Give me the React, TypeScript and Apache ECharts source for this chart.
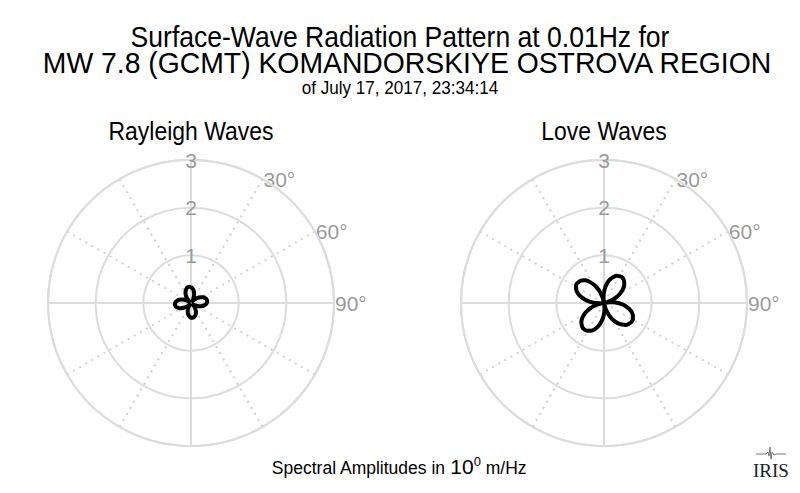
import React, { useEffect, useRef } from "react";
import * as echarts from "echarts";

// azimuth in degrees, clockwise from north
const azimuths = [
  0, 5, 10, 15, 20, 25, 30, 35, 40, 45, 50, 55, 60, 65, 70, 75, 80, 85, 90, 95,
  100, 105, 110, 115, 120, 125, 130, 135, 140, 145, 150, 155, 160, 165, 170,
  175, 180, 185, 190, 195, 200, 205, 210, 215, 220, 225, 230, 235, 240, 245,
  250, 255, 260, 265, 270, 275, 280, 285, 290, 295, 300, 305, 310, 315, 320,
  325, 330, 335, 340, 345, 350, 355, 360,
];

const rayleigh = [
  0.33, 0.31, 0.28, 0.24, 0.19, 0.14, 0.08, 0.02, 0.04, 0.1, 0.15, 0.2, 0.24,
  0.28, 0.31, 0.33, 0.34, 0.34, 0.33, 0.31, 0.28, 0.24, 0.2, 0.15, 0.1, 0.04,
  0.02, 0.07, 0.12, 0.16, 0.21, 0.24, 0.27, 0.29, 0.31, 0.31, 0.31, 0.29, 0.27,
  0.24, 0.2, 0.16, 0.11, 0.06, 0.01, 0.05, 0.11, 0.16, 0.21, 0.26, 0.29, 0.32,
  0.33, 0.34, 0.33, 0.32, 0.29, 0.26, 0.21, 0.16, 0.11, 0.05, 0.01, 0.07, 0.13,
  0.18, 0.23, 0.27, 0.3, 0.33, 0.34, 0.34, 0.33,
];

const love = [
  0.23, 0.34, 0.44, 0.52, 0.58, 0.63, 0.65, 0.66, 0.64, 0.6, 0.55, 0.47, 0.38,
  0.28, 0.17, 0.05, 0.07, 0.19, 0.3, 0.4, 0.49, 0.57, 0.63, 0.67, 0.7, 0.7,
  0.68, 0.65, 0.59, 0.52, 0.44, 0.34, 0.23, 0.12, 0, 0.12, 0.23, 0.33, 0.43,
  0.52, 0.59, 0.64, 0.67, 0.69, 0.69, 0.66, 0.62, 0.56, 0.48, 0.39, 0.29, 0.18,
  0.07, 0.05, 0.18, 0.29, 0.4, 0.5, 0.58, 0.64, 0.68, 0.7, 0.69, 0.67, 0.62,
  0.55, 0.46, 0.36, 0.25, 0.13, 0, 0.12, 0.23,
];

const panelTitles = ["Rayleigh Waves", "Love Waves"];
const angleLabels = [30, 60, 90];
const radiusMax = 3;

const centers = [
  [191, 303],
  [604, 303],
];
const R = 143;
const GRID = "#dcdcdc";
const LABEL = "#9a9a9a";
const SANS = "'Liberation Sans', Arial, sans-serif";

// Liberation Sans squeezed horizontally to look like Arial Narrow
const narrowText = (text: string, x: number, y: number, size: number, sx = 0.9) => ({
  type: "text",
  x,
  y,
  scaleX: sx,
  style: {
    text,
    align: "center",
    verticalAlign: "middle",
    fontSize: size,
    lineHeight: Math.round(size * 0.78),
    fontFamily: SANS,
    fill: "#000",
  },
});

const App = () => {
  const chartRef = useRef<HTMLDivElement>(null);

  useEffect(() => {
    document.body.style.margin = "0";
    if (!chartRef.current) return;
    const chart = echarts.init(chartRef.current, null, { renderer: "svg" });

    const polar: any[] = [];
    const angleAxis: any[] = [];
    const radiusAxis: any[] = [];
    centers.forEach((c) => {
      // dotted spokes every 30 deg + inner circles
      polar.push({ center: c, radius: R });
      angleAxis.push({
        polarIndex: polar.length - 1,
        type: "value",
        min: 0,
        max: 360,
        interval: 30,
        startAngle: 90,
        clockwise: true,
        axisLine: { show: false },
        axisTick: { show: false },
        axisLabel: { show: false },
        splitLine: { lineStyle: { type: [2, 5], color: "#cfcfcf", width: 2 } },
      });
      radiusAxis.push({
        polarIndex: polar.length - 1,
        min: 0,
        max: radiusMax,
        interval: 1,
        axisLine: { show: false },
        axisTick: { show: false },
        axisLabel: { show: false },
        splitLine: { show: true, lineStyle: { color: GRID, width: 2 } },
      });
      // solid cross + outer ring + radius labels
      polar.push({ center: c, radius: R });
      angleAxis.push({
        polarIndex: polar.length - 1,
        type: "value",
        min: 0,
        max: 360,
        interval: 90,
        startAngle: 90,
        clockwise: true,
        axisLine: { show: true, lineStyle: { color: GRID, width: 2 } },
        axisTick: { show: false },
        axisLabel: { show: false },
        splitLine: { lineStyle: { color: GRID, width: 2 } },
      });
      radiusAxis.push({
        polarIndex: polar.length - 1,
        min: 0,
        max: radiusMax,
        interval: 1,
        axisLine: { show: false },
        axisTick: { show: false },
        splitLine: { show: false },
        axisLabel: {
          show: true,
          margin: 0,
          align: "center",
          verticalAlign: "middle",
          color: LABEL,
          fontSize: 21,
          fontFamily: SANS,
          formatter: (v: number) => (v === 0 ? "" : String(v)),
        },
      });
    });

    const graphic: any[] = [
      narrowText("Surface-Wave Radiation Pattern at 0.01Hz for", 400, 36, 30, 0.885),
      narrowText("MW 7.8 (GCMT) KOMANDORSKIYE OSTROVA REGION", 407, 63, 30, 0.945),
      narrowText("of July 17, 2017, 23:34:14", 400, 88, 19),
      {
        type: "text",
        x: 399,
        y: 466,
        style: {
          text: "{a|Spectral Amplitudes in }{b|10}{c|0}{a| m/Hz}",
          align: "center",
          verticalAlign: "middle",
          fill: "#000",
          rich: {
            a: { fontSize: 17.5, fontFamily: SANS, fill: "#000", verticalAlign: "bottom", lineHeight: 22 },
            b: { fontSize: 21, fontFamily: SANS, fill: "#000", verticalAlign: "bottom", lineHeight: 22 },
            c: { fontSize: 13, fontFamily: SANS, fill: "#000", verticalAlign: "top", lineHeight: 22 },
          },
        },
      },
      // IRIS logo
      {
        type: "polyline",
        shape: {
          points: [
            [756, 454], [766, 454], [768, 452], [769, 456], [770, 447], [771, 459],
            [772, 452], [774, 455], [776, 454], [786, 454],
          ],
        },
        style: { stroke: "#555", lineWidth: 0.8, fill: null },
      },
      {
        type: "text",
        x: 771,
        y: 470,
        style: {
          text: "IRIS",
          align: "center",
          verticalAlign: "middle",
          fontSize: 19,
          fontFamily: "'Liberation Serif', serif",
          fill: "#222",
        },
      },
    ];

    centers.forEach((c, i) => {
      graphic.push(narrowText(panelTitles[i], c[0], 131, 25.5));
      angleLabels.forEach((a) => {
        const rad = (a * Math.PI) / 180;
        graphic.push({
          type: "text",
          x: c[0] + R * Math.sin(rad) + 1,
          y: c[1] - R * Math.cos(rad),
          style: {
            text: a + "°",
            align: "left",
            verticalAlign: "middle",
            fontSize: 21,
            fontFamily: SANS,
            fill: LABEL,
          },
        });
      });
    });

    const series = [rayleigh, love].map((vals, i) => ({
      type: "line",
      coordinateSystem: "polar",
      polarIndex: i * 2 + 1,
      showSymbol: false,
      smooth: 0.3,
      lineStyle: { color: "#000", width: 4 },
      data: vals.map((r, k) => [r, azimuths[k]]),
      silent: true,
      z: 10,
    }));

    chart.setOption({
      animation: false,
      backgroundColor: "#fff",
      polar,
      angleAxis,
      radiusAxis,
      series,
      graphic,
    });

    return () => {
      chart.dispose();
    };
  }, []);

  return <div ref={chartRef} style={{ width: 800, height: 493 }} />;
};

export default App;
